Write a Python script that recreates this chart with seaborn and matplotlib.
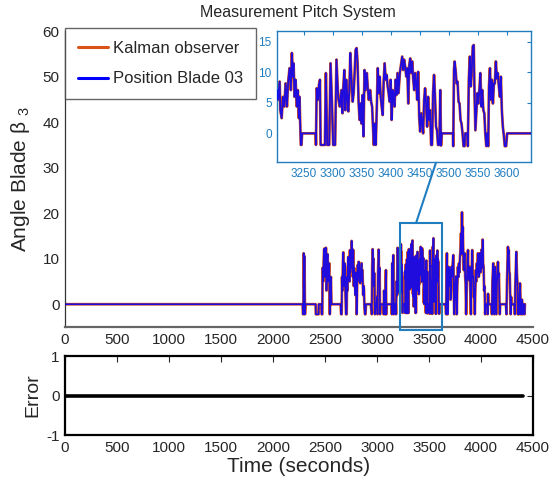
import matplotlib
matplotlib.use("Agg")
import matplotlib.pyplot as plt
from matplotlib.patches import Rectangle, ConnectionPatch
from matplotlib.lines import Line2D
import numpy as np
import pandas as pd
import seaborn as sns

# ---------------- data ----------------
title_text = "Measurement Pitch System"
series_names = ["Kalman observer", "Position Blade 03"]
x_ticks_main = [0, 500, 1000, 1500, 2000, 2500, 3000, 3500, 4000, 4500]
y_ticks_main = [0, 10, 20, 30, 40, 50, 60]
x_ticks_inset = [3250, 3300, 3350, 3400, 3450, 3500, 3550, 3600]
y_ticks_inset = [0, 5, 10, 15]
y_ticks_error = [-1, 0, 1]

idle = [(0, 0.0), (2285, 0.0)]
burst_2290 = [(2288, -2.2), (2292, -2.2), (2295, 11.2), (2299, 4.0), (2303, 10.5),
              (2307, -2.2), (2312, 0.0)]
dip_2410 = [(2410, 0.0), (2412, -2.2), (2438, -2.2), (2440, 0.0)]
burst_2470 = [(2465, 0), (2468, -2.2), (2474, -2.2), (2477, 8), (2483, 5), (2488, 10),
              (2493, 12.2), (2498, 6), (2503, 9), (2509, 12.4), (2514, 3), (2520, 8),
              (2525, 11), (2530, 5), (2536, 7), (2541, 9), (2546, -2.2), (2552, 5),
              (2557, 6), (2562, 0)]
burst_2660 = [(2650, 0), (2655, -2.2), (2660, -2.2), (2664, 6), (2668, 3), (2672, 9),
              (2676, 11.4), (2680, 7), (2684, 4), (2688, 9), (2692, 8.2), (2697, 2),
              (2702, -2.2), (2708, -2.2), (2712, 6), (2716, 3), (2720, 8), (2724, 10.4),
              (2728, 6), (2732, 9), (2736, 5), (2740, 11.9), (2744, 7), (2748, 10),
              (2752, 8), (2756, 13.9), (2760, 9), (2764, 12), (2768, 6), (2772, 11.9),
              (2776, 4), (2780, 8), (2784, 5), (2788, 6.1), (2792, 2), (2797, 7),
              (2801, 3), (2804, -2.2), (2809, 4), (2814, 8.6), (2818, 6), (2822, 9.3),
              (2827, 9.3), (2831, 5), (2835, 7), (2839, 4.6), (2843, 6), (2847, 8),
              (2852, 9.0), (2856, 5), (2859, 7.5), (2862, 6.1), (2867, 2), (2871, 4),
              (2875, 3.1), (2879, -0.5), (2884, -2.2), (2889, -2.2), (2894, 0)]
burst_2950 = [(2940, 0), (2950, -2.2), (2954, 8), (2958, 12.1), (2962, 6.8), (2966, 10),
              (2970, 4), (2975, 6.8), (2980, -2.2), (2986, 0), (2996, 0), (3000, 1.6),
              (3005, -2.2), (3010, 7), (3016, 12.0), (3020, 5), (3025, 8), (3029, -2.2),
              (3034, 0), (3060, 0), (3064, -2.2), (3068, 3), (3072, 1.6), (3076, 0),
              (3080, -2.2), (3083, 5), (3086, 7.5), (3089, -2.2), (3093, 0)]
burst_3140 = [(3140, 0), (3143, -2.2), (3147, 9), (3152, 3), (3157, 10.8), (3162, -2.2),
              (3168, 0), (3180, 0), (3183, -2.2), (3188, 5), (3193, 2), (3198, 12.4),
              (3201, 6)]
zoom_3204 = [(3204.0, 7.1), (3205.7, 5.5), (3208.6, 8.5), (3209.7, 3.8), (3212.0, 2.5),
             (3214.2, 6.0), (3216.5, 4.4), (3218.8, 8.2), (3221.1, 4.4), (3223.3, 8.5),
             (3225.6, 10.7), (3227.9, 7.1), (3229.6, 13.2), (3231.3, 9.3), (3232.5, 11.5),
             (3234.2, 6.0), (3235.9, 8.8), (3238.1, 4.4), (3239.8, 7.1), (3241.6, 2.5),
             (3242.7, 6.0), (3245.0, -1.9), (3246.1, -1.9), (3247.2, 0.0), (3270.6, 0.0),
             (3271.1, -1.9), (3272.3, 7.4), (3274.6, 5.5), (3276.3, 8.0), (3278.0, 8.8),
             (3279.1, -1.9), (3286.5, -1.9), (3288.2, 9.9), (3290.5, -1.9), (3293.9, -1.9),
             (3296.2, 11.5), (3298.5, 5.5), (3300.7, -1.9), (3304.1, -1.9), (3306.4, 12.1),
             (3309.3, 6.0), (3312.1, 4.4), (3315.0, 7.1), (3316.7, 3.3)]
zoom_3318 = [(3318.3, 7.7), (3320.0, 10.4), (3321.7, 3.8), (3323.4, 8.8), (3325.1, 6.0),
             (3326.9, 3.6), (3328.6, 7.1), (3330.3, 13.2), (3332.0, 9.3), (3334.3, 5.2),
             (3336.0, 6.6), (3337.7, 9.9), (3339.4, 13.7), (3341.1, 14.0), (3342.8, 11.5),
             (3344.5, 5.2), (3346.2, 2.2), (3347.9, 4.9), (3349.6, 1.6), (3351.3, 6.3),
             (3353.0, -0.5), (3354.7, 10.4), (3356.4, 7.1), (3358.7, 9.9), (3360.4, 7.4),
             (3362.1, 5.5), (3364.4, 7.1), (3366.1, 5.2), (3367.8, 4.4), (3369.5, 0.5),
             (3370.7, -1.9), (3372.4, 1.6), (3374.1, -1.9), (3375.8, 3.8), (3377.5, 10.7),
             (3379.2, 6.6), (3380.9, 9.3), (3382.6, 6.0), (3384.3, 4.4), (3386.0, 3.0),
             (3387.7, 8.5), (3389.4, 11.5), (3391.2, 8.8), (3392.9, 9.6), (3394.6, 7.7),
             (3396.3, 6.6), (3398.0, 5.2), (3399.7, 8.8), (3401.4, 2.2), (3403.1, 7.1),
             (3404.8, 6.3), (3406.5, 4.4), (3408.2, 8.8), (3409.9, 6.3), (3411.6, 9.9),
             (3413.3, 6.6), (3415.6, 9.9), (3417.9, 11.5), (3419.6, 12.6), (3421.3, 10.4),
             (3423.0, 12.1), (3424.7, 11.0)]
zoom_3426 = [(3426.7, 9.3), (3428.4, 10.7), (3430.1, 4.9), (3431.8, 11.2), (3433.5, 12.3),
             (3435.2, 9.9), (3436.9, 11.8), (3438.7, 8.8), (3440.4, 7.1), (3442.1, 9.9),
             (3443.8, 8.2), (3445.5, 5.5), (3447.2, 10.1), (3448.9, 2.7), (3450.6, 0.3),
             (3452.3, 3.3), (3454.0, 1.6), (3455.7, 0.0), (3457.4, 5.5), (3459.1, 7.4),
             (3460.8, 4.7), (3462.6, 1.1), (3464.3, 6.0), (3466.0, 2.2), (3467.7, 3.8),
             (3469.4, -1.9), (3471.1, -1.9), (3472.8, 6.6), (3474.5, 9.6), (3476.2, 6.0),
             (3477.9, 1.1), (3479.6, 0.5), (3481.3, -1.9), (3483.6, -1.9), (3485.3, 7.1),
             (3486.5, -2.0), (3488.0, 0.0), (3507.1, 0.0)]
zoom_3507 = [(3507.6, -2.1), (3508.8, 10.4), (3509.9, 11.8), (3511.6, 10.4), (3513.3, 8.2),
             (3515.0, 8.5), (3516.7, 5.2), (3518.4, 4.9), (3520.1, 2.2), (3521.8, 1.6),
             (3523.6, 0.0), (3525.3, -2.1), (3527.0, -2.1), (3528.1, 0.0), (3531.5, 0.0),
             (3532.7, -2.1), (3534.4, 8.8), (3536.1, 12.6), (3537.8, 7.7), (3539.5, 10.4),
             (3541.2, 14.3), (3542.9, 14.5), (3544.0, 7.7), (3545.7, 0.5), (3547.5, 3.8),
             (3549.2, 6.6), (3550.9, 4.9), (3552.6, 7.1), (3554.3, 9.9), (3556.0, 4.4),
             (3557.7, 7.1), (3559.4, 3.8), (3561.1, 3.3), (3562.8, 0.0), (3564.5, -2.1),
             (3566.2, 0.0), (3567.9, -2.1), (3569.1, 7.7), (3570.8, 10.7), (3572.5, 5.5),
             (3574.2, 8.8), (3575.9, 4.9), (3577.6, 8.2), (3579.3, 8.2), (3581.0, 11.8),
             (3582.7, 9.0), (3584.4, 9.9), (3586.1, 7.7), (3587.9, 6.0), (3589.6, 9.3),
             (3591.3, 3.8), (3593.0, 1.1), (3594.7, -0.3), (3596.4, -2.1), (3598.7, -2.1),
             (3600.4, 0.0)]
burst_3665 = [(3660, 0), (3665, -2.2), (3668, 7), (3672, 11.2), (3676, 4), (3679, -2.2),
              (3684, 5), (3690, 8.2), (3696, 4), (3702, 7.5), (3708, 1), (3712, 5),
              (3716, 8.2), (3722, 6), (3728, 9), (3734, 10.8), (3738, 3), (3743, -2.2),
              (3748, 2), (3752, 4), (3758, 6.1), (3762, 3), (3767, -2.2), (3772, 4),
              (3778, 8.2), (3784, 6), (3788, 9), (3793, 7), (3798, 10.4), (3803, 12),
              (3808, 15.6), (3812, 11), (3817, 20.2), (3821, 14), (3825, 17), (3829, 12),
              (3834, 7.5), (3838, 9), (3843, 11.2), (3848, 6), (3852, 4.6), (3857, -2.2),
              (3862, 3), (3866, 7), (3870, 9), (3875, 11.9), (3879, 6), (3884, 5.3),
              (3888, 8), (3893, 8.2), (3897, 3), (3903, -2.2), (3908, 5), (3912, 9),
              (3916, 11.9), (3920, 6), (3926, 6.1), (3931, 1.6), (3935, 3), (3940, -2.2),
              (3945, 3), (3950, 7.5), (3955, 5), (3960, 9), (3965, 7), (3971, 11.2),
              (3976, 6), (3980, 6.1), (3985, 9), (3990, 11.2), (3996, 7), (4000, 10),
              (4006, 12), (4011, 8), (4016, 14.2), (4020, 9), (4025, 8.2), (4030, 3),
              (4035, 3.9), (4040, -2.2), (4045, 0)]
burst_4060 = [(4060, 0), (4064, -2.2), (4068, 2.3), (4072, 0), (4100, 0), (4105, -2.2),
              (4110, 5), (4114, 7), (4118, 9.0), (4122, 4), (4127, -2.2), (4132, 6),
              (4137, 8.2), (4142, 3), (4147, -2.2), (4152, 4), (4158, 7), (4163, 9.3),
              (4168, 6), (4172, 6.8), (4176, 2), (4180, -2.2), (4185, 0), (4240, 0),
              (4245, -2.2), (4250, 5), (4255, 9), (4259, 12.6), (4263, 11), (4267, 11.9),
              (4272, 7), (4276, 6.8), (4281, 2), (4285, -2.2), (4290, 1.6), (4294, 0),
              (4320, 0), (4325, -2.2), (4330, 4), (4335, 8), (4340, 11.5), (4345, 7),
              (4350, 4.6), (4355, -2.2), (4360, 0), (4365, -2.2), (4370, 2), (4375, 4.6),
              (4380, 1), (4384, -2.2), (4390, 1), (4395, 1), (4400, -2.2), (4405, 0),
              (4415, 0), (4418, -2.2), (4422, 0)]

error_time = [0, 4400]
error_values = [0.0, 0.0]

segments = [idle, burst_2290, dip_2410, burst_2470, burst_2660, burst_2950, burst_3140,
            zoom_3204, zoom_3318, zoom_3426, zoom_3507, burst_3665, burst_4060]
points = [p for seg in segments for p in seg]
time_s = [p[0] for p in points]
position_blade03 = [p[1] for p in points]
kalman_observer = list(position_blade03)

# ---------------- style ----------------
sns.set_style("white")
REG = "Liberation Sans"
plt.rcParams["font.family"] = [REG, "DejaVu Sans"]
plt.rcParams["mathtext.fontset"] = "custom"
plt.rcParams["mathtext.rm"] = REG
plt.rcParams["mathtext.it"] = REG
plt.rcParams["axes.unicode_minus"] = False

ORANGE = "#D95319"
BLUE = "#0000FF"
MBLUE = "#1F7DC0"
TXT = "#262626"

df = pd.DataFrame({"t": time_s, "kal": kalman_observer, "pos": position_blade03})
df_err = pd.DataFrame({"t": error_time, "e": error_values})

fig = plt.figure(figsize=(5.55, 4.9), dpi=100)
W, H = 555.0, 490.0

def frac(x0, y0, x1, y1):
    return [x0 / W, 1 - y1 / H, (x1 - x0) / W, (y1 - y0) / H]

ax = fig.add_axes(frac(65, 31, 533, 327))
ax_err = fig.add_axes(frac(65, 356, 533, 435))
ax_in = fig.add_axes(frac(277.3, 31, 530.7, 162))

def draw_series(a, lw_o, lw_b):
    sns.lineplot(data=df, x="t", y="kal", ax=a, color=ORANGE, lw=lw_o,
                 estimator=None, sort=False, zorder=2)
    sns.lineplot(data=df, x="t", y="pos", ax=a, color=BLUE, lw=lw_b, alpha=0.85,
                 estimator=None, sort=False, zorder=3)

# main axes
draw_series(ax, 2.0, 1.2)
ax.set_xlim(0, 4500)
ax.set_ylim(-5, 60)
ax.set_xticks(x_ticks_main)
ax.set_yticks(y_ticks_main)
for s in ["top", "right"]:
    ax.spines[s].set_visible(False)
ax.spines["left"].set_color("#333333")
ax.spines["left"].set_linewidth(0.9)
ax.spines["bottom"].set_color("#666666")
ax.spines["bottom"].set_linewidth(1.6)
ax.tick_params(direction="in", length=4, width=0.8, labelsize=11, colors=TXT, pad=4)
ax.set_xlabel("")
ax.set_ylabel("Angle Blade β $_3$", fontsize=15, color=TXT)
ax.yaxis.set_label_coords(-0.07, 0.5)

leg_handles = [Line2D([], [], color=ORANGE, lw=2.2), Line2D([], [], color=BLUE, lw=2.2)]
leg = ax.legend(leg_handles, series_names, loc="upper left", bbox_to_anchor=(0, 1.01),
                borderaxespad=0, fontsize=12, frameon=True, fancybox=False,
                handlelength=1.85, handletextpad=0.3, labelspacing=0.95,
                borderpad=0.75)
leg.get_frame().set_edgecolor("#404040")
leg.get_frame().set_linewidth(1.0)
for t in leg.get_texts():
    t.set_color(TXT)

# zoom rectangle and connector
rect = Rectangle((3224, -5.6), 398, 23.4, fill=False, ec=MBLUE, lw=1.5,
                 clip_on=False, zorder=5)
ax.add_patch(rect)
con = ConnectionPatch(xyA=(3375, 17.8), coordsA=ax.transData,
                      xyB=(0.626, -0.006), coordsB=ax_in.transAxes,
                      color=MBLUE, lw=1.5, zorder=6)
fig.add_artist(con)

# inset
draw_series(ax_in, 2.0, 1.3)
ax_in.set_xlim(3204.5, 3641)
ax_in.set_ylim(-4.7, 16.8)
ax_in.set_xticks(x_ticks_inset)
ax_in.set_yticks(y_ticks_inset)
ax_in.set_facecolor("white")
for s in ax_in.spines.values():
    s.set_color(MBLUE)
    s.set_linewidth(1.0)
    s.set_visible(True)
ax_in.tick_params(direction="in", length=3, width=0.8, labelsize=8.5, colors=MBLUE,
                  top=True, right=True, pad=4)
ax_in.set_xlabel("")
ax_in.set_ylabel("")

# error axes
sns.lineplot(data=df_err, x="t", y="e", ax=ax_err, color="black", lw=2.6,
             estimator=None, sort=False)
ax_err.set_xlim(0, 4500)
ax_err.set_ylim(-1, 1)
ax_err.set_xticks(x_ticks_main)
ax_err.set_yticks(y_ticks_error)
for s in ax_err.spines.values():
    s.set_color("black")
    s.set_linewidth(1.6)
    s.set_visible(True)
ax_err.tick_params(direction="in", length=4, width=0.8, labelsize=11, colors=TXT,
                   top=True, right=True, pad=4)
ax_err.set_xlabel("Time (seconds)", fontsize=15, color=TXT, labelpad=2)
ax_err.set_ylabel("Error", fontsize=14, color=TXT)
ax_err.yaxis.set_label_coords(-0.05, 0.5)

fig.text(298 / W, 1 - 12 / H, title_text, ha="center", va="center", fontsize=11.5,
         color=TXT)

fig.savefig("out.png", dpi=100)
